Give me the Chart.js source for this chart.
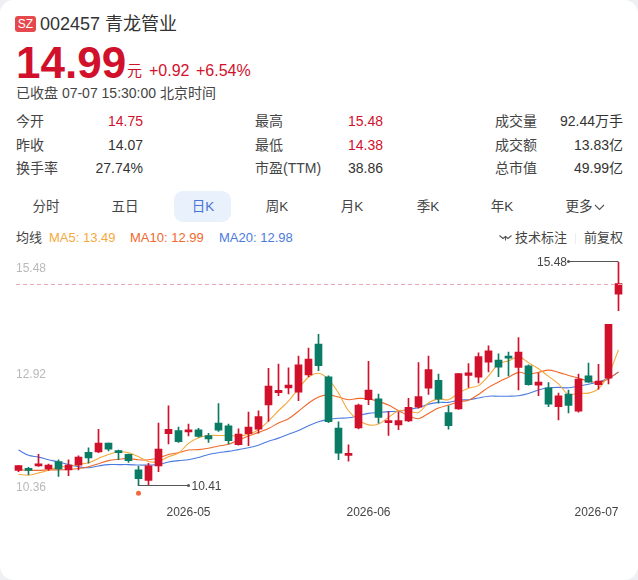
<!DOCTYPE html>
<html lang="zh">
<head>
<meta charset="utf-8">
<title>002457 青龙管业</title>
<script src="https://cdn.jsdelivr.net/npm/chart.js@4/dist/chart.umd.min.js"></script>
<style>
  html, body { margin: 0; padding: 0; background: #eef0f3; }
  body { width: 638px; height: 580px; position: relative; overflow: hidden;
         font-family: "Liberation Sans", "Noto Sans CJK SC", sans-serif; color: #333; }
  #card { position: absolute; left: 0; top: 0; width: 638px; height: 580px; background: #fff; border-radius: 14px; }
  .t { position: absolute; white-space: nowrap; line-height: 1; }
  .up { color: #d1112b; }
  #wrap { position: absolute; left: 0; top: 250px; width: 638px; height: 280px; }
  #active { position: absolute; left: 174px; top: 191px; width: 57px; height: 31px; background: #e8f1fc; border-radius: 9px; }
</style>
</head>
<body>
<div id="card"></div>

<div class="t" style="left:15px;top:16px;width:21px;height:16px;background:#e5484d;border-radius:3px;color:#fff;font-size:12px;line-height:17px;text-align:center">SZ</div>
<div class="t" style="left:40px;top:15px;font-size:18px;line-height:19px;color:#333">002457 青龙管业</div>

<div class="t up" style="left:16px;top:41px;font-size:44px;line-height:44px;font-weight:700">14.99</div>
<div class="t up" style="left:127px;top:63px;font-size:15px">元</div>
<div class="t up" style="left:149px;top:63px;font-size:16px">+0.92</div>
<div class="t up" style="left:196px;top:63px;font-size:16px">+6.54%</div>
<div class="t" style="left:16px;top:86px;font-size:14px;color:#444">已收盘 07-07 15:30:00 北京时间</div>

<div id="quote"></div>

<div id="active"></div>
<div id="tabs"></div>

<div class="t" style="left:16px;top:231px;font-size:13px;color:#444">均线</div>
<div class="t" style="left:49px;top:231px;font-size:13px;color:#f5a93c">MA5: 13.49</div>
<div class="t" style="left:130px;top:231px;font-size:13px;color:#f0692c">MA10: 12.99</div>
<div class="t" style="left:219px;top:231px;font-size:13px;color:#4c7be0">MA20: 12.98</div>
<svg class="t" style="left:499px;top:234px" width="13" height="8" viewBox="0 0 13 8" fill="none" stroke="#555" stroke-width="1.1"><path d="M0.5 1.5 L4 4.5 L6.5 2.5 L9 4.5 L12.5 1.5"/><path d="M6.5 2.5 V6.5"/></svg>
<div class="t" style="left:515px;top:231px;font-size:13px;color:#444">技术标注</div>
<div style="position:absolute;left:575px;top:233px;width:1px;height:11px;background:#eceef2"></div>
<div class="t" style="left:584px;top:231px;font-size:13px;color:#444">前复权</div>

<div id="wrap"><canvas id="kline" width="638" height="280"></canvas></div>

<script>
// Trading days shown on the daily K-line
const dates = [
  '2026-04-08','2026-04-09','2026-04-10','2026-04-13','2026-04-14','2026-04-15','2026-04-16','2026-04-17',
  '2026-04-20','2026-04-21','2026-04-22','2026-04-23','2026-04-24','2026-04-27','2026-04-28','2026-04-29','2026-04-30',
  '2026-05-06','2026-05-07','2026-05-08','2026-05-11','2026-05-12','2026-05-13','2026-05-14','2026-05-15',
  '2026-05-18','2026-05-19','2026-05-20','2026-05-21','2026-05-22','2026-05-25','2026-05-26','2026-05-27','2026-05-28','2026-05-29',
  '2026-06-01','2026-06-02','2026-06-03','2026-06-04','2026-06-05','2026-06-08','2026-06-09','2026-06-10','2026-06-11','2026-06-12',
  '2026-06-15','2026-06-16','2026-06-17','2026-06-18','2026-06-22','2026-06-23','2026-06-24','2026-06-25','2026-06-26','2026-06-29','2026-06-30',
  '2026-07-01','2026-07-02','2026-07-03','2026-07-06','2026-07-07'
];

const opens = [
  10.76,10.78,10.86,10.79,10.96,10.77,10.88,11.17,11.18,11.38,11.19,11.12,10.77,10.53,10.86,11.59,11.66,11.63,11.68,11.55,
  11.83,11.77,11.34,11.59,11.69,12.24,12.52,12.63,12.53,12.92,13.62,12.88,11.72,11.10,11.72,12.36,12.38,11.84,11.79,11.88,
  12.19,12.62,12.80,12.07,12.15,12.91,12.87,13.21,13.26,13.35,13.09,13.13,12.69,12.63,12.20,12.49,12.10,12.90,12.70,12.85,14.75
];
const highs = [
  10.87,10.83,11.12,10.90,11.00,11.00,11.09,11.27,11.69,11.38,11.22,11.13,10.85,10.92,11.83,12.22,11.74,11.81,11.71,11.60,
  12.27,11.81,11.70,12.08,12.11,13.07,13.17,13.08,13.35,13.53,13.84,12.90,11.86,11.34,12.26,13.23,12.49,12.09,12.08,12.39,
  13.20,13.35,12.94,12.22,12.96,13.18,13.42,13.58,13.40,13.44,13.77,13.15,12.96,12.75,12.51,12.58,12.94,13.19,13.16,14.07,15.48
];
const lows = [
  10.73,10.66,10.85,10.76,10.62,10.64,10.77,10.92,11.16,11.20,11.00,10.94,10.41,10.43,10.73,11.36,11.39,11.54,11.51,11.39,
  11.64,11.36,11.33,11.32,11.60,11.87,12.45,12.49,12.34,12.88,13.02,11.84,11.00,10.97,11.70,12.25,11.83,11.55,11.68,11.86,
  12.17,12.48,12.28,11.69,12.14,12.64,12.74,12.99,12.88,12.90,12.58,12.69,12.45,12.20,11.90,12.06,12.08,12.75,12.60,12.72,14.38
];
const closes = [
  10.87,10.76,10.90,10.88,10.79,10.88,11.06,11.04,11.38,11.24,11.16,10.98,10.57,10.86,11.24,11.69,11.41,11.65,11.53,11.47,
  11.67,11.43,11.58,11.74,11.98,12.67,12.57,12.69,13.15,13.28,13.13,11.86,11.15,11.13,12.24,12.58,11.96,11.89,11.89,12.19,
  12.43,13.04,12.37,11.77,12.95,12.97,13.34,13.47,13.10,13.30,13.44,12.70,12.76,12.26,12.45,12.23,12.83,12.76,12.78,14.07,14.99
];

const ma5 = [
  10.67,10.65,10.70,10.76,10.84,10.84,10.90,10.93,11.03,11.12,11.18,11.16,11.07,10.96,10.96,11.07,11.15,11.37,11.50,11.55,
  11.55,11.55,11.54,11.58,11.68,11.88,12.11,12.33,12.61,12.87,12.96,12.82,12.51,12.11,11.90,11.79,11.81,11.96,12.11,12.10,
  12.07,12.29,12.38,12.36,12.51,12.62,12.68,12.90,13.17,13.24,13.33,13.20,13.06,12.89,12.72,12.48,12.51,12.51,12.61,12.93,13.49
];
const ma10 = [
  10.77,10.76,10.76,10.77,10.77,10.78,10.80,10.84,10.91,10.98,11.01,11.03,11.00,11.00,11.04,11.12,11.16,11.22,11.23,11.26,
  11.31,11.35,11.45,11.54,11.62,11.71,11.83,11.93,12.10,12.28,12.42,12.47,12.42,12.36,12.39,12.38,12.32,12.24,12.11,12.00,
  11.93,12.05,12.17,12.24,12.31,12.35,12.48,12.64,12.76,12.87,12.98,12.94,12.98,13.03,12.98,12.91,12.85,12.78,12.75,12.83,12.99
];
const ma20 = [
  11.22,11.10,11.06,11.00,10.95,10.89,10.84,10.82,10.86,10.89,10.89,10.89,10.88,10.88,10.89,10.95,10.98,11.00,11.05,11.12,
  11.16,11.19,11.23,11.27,11.33,11.42,11.49,11.58,11.66,11.77,11.86,11.91,11.94,11.95,12.00,12.05,12.07,12.09,12.10,12.14,
  12.18,12.26,12.30,12.30,12.35,12.36,12.40,12.44,12.44,12.44,12.45,12.50,12.58,12.63,12.64,12.63,12.67,12.71,12.76,12.85,12.98
];

const yTicks = [10.36, 12.92, 15.48];
const monthStarts = ['2026-05-06', '2026-06-01', '2026-07-01'];

const quoteRows = [
  ['今开', '14.75', true,  '最高', '15.48', true,  '成交量', '92.44万手'],
  ['昨收', '14.07', false, '最低', '14.38', true,  '成交额', '13.83亿'],
  ['换手率', '27.74%', false, '市盈(TTM)', '38.86', false, '总市值', '49.99亿']
];
const rowTops = [114, 138, 161];
const tabNames = ['分时', '五日', '日K', '周K', '月K', '季K', '年K', '更多'];
const tabCenters = [46, 125, 203, 277, 352, 428, 502, 579];

// Quote table and period tabs
const quote = document.getElementById('quote');
function addText(parent, text, css, cls) {
  const el = document.createElement('div');
  el.className = 't ' + (cls || '');
  el.style.cssText = css;
  el.textContent = text;
  parent.appendChild(el);
}
quoteRows.forEach((row, i) => {
  const top = rowTops[i];
  const base = 'top:' + top + 'px;font-size:14px;';
  addText(quote, row[0], base + 'left:16px;color:#444');
  addText(quote, row[1], base + 'right:495px;', row[2] ? 'up' : '');
  addText(quote, row[3], base + 'left:255px;color:#444');
  addText(quote, row[4], base + 'right:255px;', row[5] ? 'up' : '');
  addText(quote, row[6], base + 'left:495px;color:#444');
  addText(quote, row[7], base + 'right:15px;');
});
const tabs = document.getElementById('tabs');
tabNames.forEach((name, i) => {
  const color = i === 2 ? '#4a73d8' : '#444';
  addText(tabs, name, 'left:' + (tabCenters[i] - 40) + 'px;width:80px;text-align:center;top:200px;font-size:13.5px;color:' + color);
});
tabs.insertAdjacentHTML('beforeend',
  '<svg class="t" style="left:594px;top:204px" width="11" height="7" viewBox="0 0 11 7" fill="none" stroke="#555" stroke-width="1.1"><path d="M1 1 L5.5 5.5 L10 1"/></svg>');

const RED = '#d1112b';
const GREEN = '#0a7c66';
const candleColors = closes.map((c, i) => (c >= opens[i] ? RED : GREEN));
const ink = '#444';

// Axis labels and high/low call-outs share this plugin
const overlay = {
  id: 'overlay',
  afterDatasetsDraw(chart) {
    const { ctx, chartArea: area, scales: { x, y } } = chart;
    const last = closes.length - 1;
    ctx.save();

    // last close reference line
    const closeY = Math.round(y.getPixelForValue(closes[last])) + 0.5;
    ctx.strokeStyle = '#e8a9b4';
    ctx.lineWidth = 1;
    ctx.setLineDash([4, 3]);
    ctx.beginPath();
    ctx.moveTo(16, closeY);
    ctx.lineTo(area.right, closeY);
    ctx.stroke();
    ctx.setLineDash([]);

    // value axis labels
    ctx.font = '12px "Liberation Sans"';
    ctx.fillStyle = '#b9b9b9';
    ctx.textAlign = 'left';
    ctx.textBaseline = 'middle';
    y.ticks.forEach(t => {
      const p = y.getPixelForValue(t.value);
      const dy = p - area.top < 1 ? 7 : 0;
      ctx.fillText(t.value.toFixed(2), 16, p + dy);
    });

    // month labels; the newest month sits flush with the last candle
    ctx.fillStyle = ink;
    ctx.textAlign = 'center';
    x.ticks.forEach((t, i) => {
      const label = dates[t.value].slice(0, 7);
      const w = ctx.measureText(label).width;
      const p = i === x.ticks.length - 1 ? area.right - 5 - w / 2 : x.getPixelForValue(t.value);
      ctx.fillText(label, p, area.bottom + 25);
    });

    // highest and lowest call-outs
    const callout = (idx, value, dir, len) => {
      const cx = x.getPixelForValue(idx);
      const cy = Math.round(y.getPixelForValue(value)) - 0.5;
      const ex = cx + dir * len;
      ctx.strokeStyle = '#555';
      ctx.lineWidth = 1;
      ctx.beginPath();
      ctx.moveTo(cx, cy);
      ctx.lineTo(ex, cy);
      ctx.stroke();
      ctx.fillStyle = '#555';
      ctx.beginPath();
      ctx.arc(ex, cy, 1.5, 0, Math.PI * 2);
      ctx.fill();
      ctx.fillStyle = ink;
      ctx.textAlign = dir > 0 ? 'left' : 'right';
      ctx.fillText(value.toFixed(2), ex + dir * (dir > 0 ? 3 : 1.5), cy + 1);
    };
    const hiIdx = highs.indexOf(Math.max(...highs));
    const loIdx = lows.indexOf(Math.min(...lows));
    callout(hiIdx, highs[hiIdx], -1, 50);
    callout(loIdx, lows[loIdx], 1, 50);

    // marker under the lowest candle
    ctx.fillStyle = '#f2693f';
    ctx.beginPath();
    ctx.arc(x.getPixelForValue(loIdx), y.getPixelForValue(lows[loIdx]) + 7.5, 2.5, 0, Math.PI * 2);
    ctx.fill();
    ctx.restore();
  }
};

const maLine = (label, data, color) => ({
  type: 'line', label, data, borderColor: color, borderWidth: 1.1,
  pointRadius: 0, tension: 0.35, order: 3
});

new Chart(document.getElementById('kline'), {
  type: 'bar',
  plugins: [overlay],
  data: {
    labels: dates,
    datasets: [
      { label: '实体', data: opens.map((o, i) => [o, closes[i]]), backgroundColor: candleColors,
        barThickness: 7, grouped: false, minBarLength: 2, order: 1 },
      { label: '影线', data: lows.map((l, i) => [l, highs[i]]), backgroundColor: candleColors,
        barThickness: 1, grouped: false, order: 2 },
      maLine('MA5', ma5, '#f5a93c'),
      maLine('MA10', ma10, '#f0692c'),
      maLine('MA20', ma20, '#4c7be0')
    ]
  },
  options: {
    responsive: false,
    animation: false,
    layout: { padding: { left: 13.5, right: 14.5, top: 12, bottom: 42 } },
    plugins: { legend: { display: false }, tooltip: { enabled: false } },
    scales: {
      x: {
        display: false,
        afterBuildTicks(scale) { scale.ticks = monthStarts.map(d => ({ value: dates.indexOf(d) })); }
      },
      y: {
        display: false,
        min: yTicks[0],
        max: yTicks[2],
        afterBuildTicks(scale) { scale.ticks = yTicks.map(value => ({ value })); }
      }
    }
  }
});
</script>
</body>
</html>
